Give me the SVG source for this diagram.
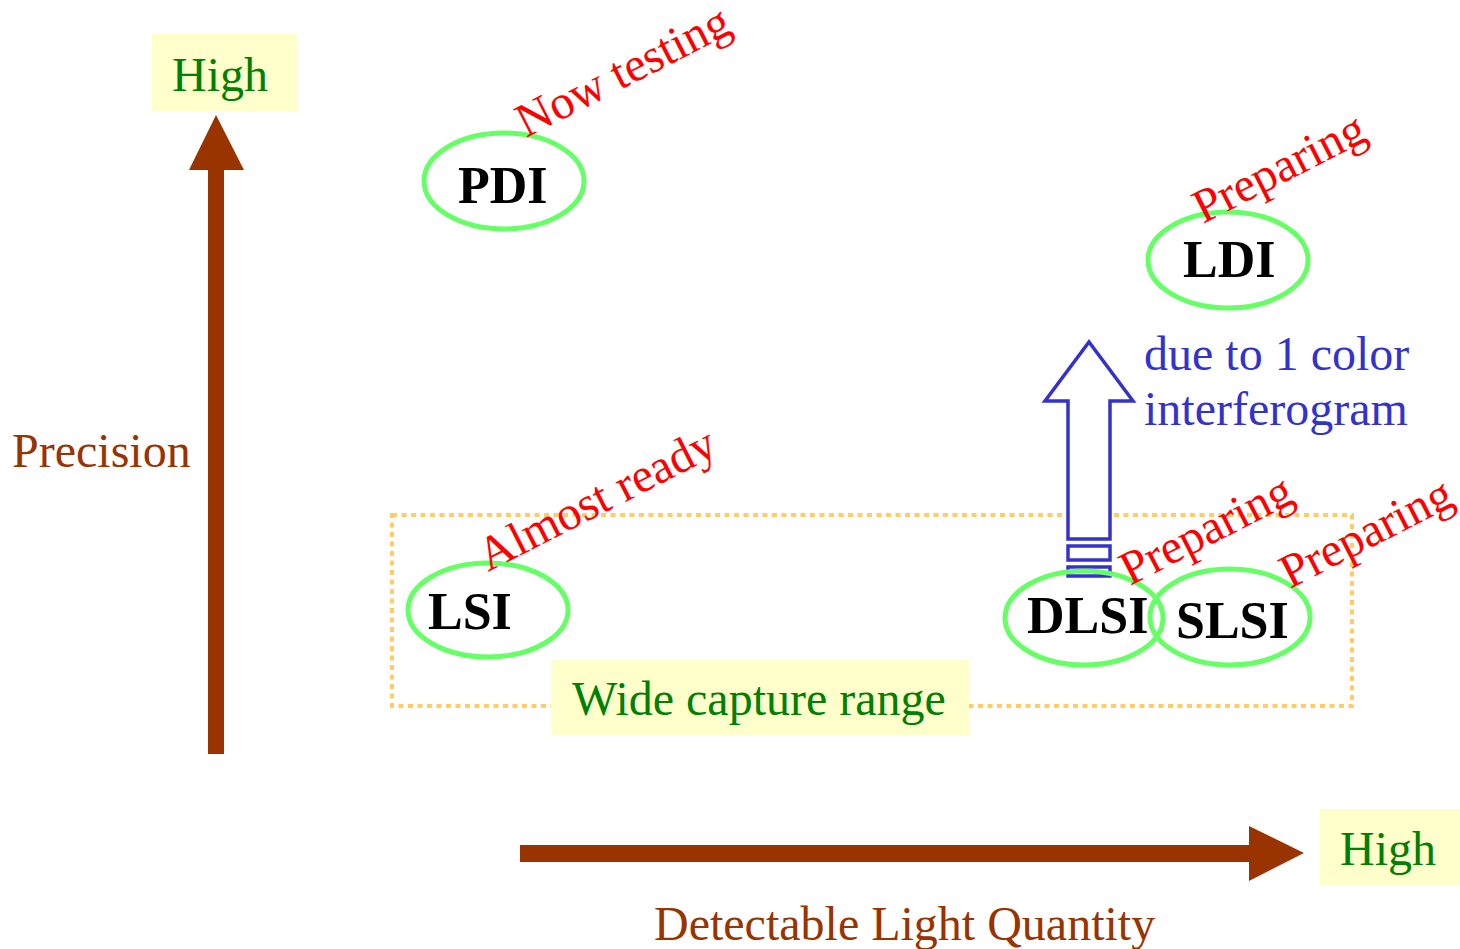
<svg xmlns="http://www.w3.org/2000/svg" width="1460" height="949" viewBox="0 0 1460 949">
<style>
.t{font-family:"Liberation Serif","Times New Roman",serif;font-size:48px}
.lab{font-family:"Liberation Serif","Times New Roman",serif;font-size:52px;font-weight:bold;fill:#000}
.red{font-family:"Liberation Serif","Times New Roman",serif;font-size:48px;fill:#ff0000}
.green{fill:#008000}
.brown{fill:#993300}
.blue{fill:#3333cc}
.ell{fill:none;stroke:#66ff66;stroke-width:5}
.hl{fill:#ffffcc}
</style>
<rect width="1460" height="949" fill="#ffffff"/>
<g id="range-box">
<rect x="392" y="515" width="960" height="191" fill="none" stroke="#ffcc66" stroke-width="4" stroke-dasharray="5 4.5"/>
</g>
<g id="connectors">
<polygon points="208,754 208,170 189,170 216,115 244,170 224,170 224,754" fill="#993300"/>
<polygon points="520,845 1249,845 1249,826 1304,853 1249,881 1249,862 520,862" fill="#993300"/>
<g fill="#ffffff" stroke="#3333cc" stroke-width="3.5">
<polygon points="1068,539 1068,401 1045,401 1089,342 1133,401 1110,401 1110,539"/>
<rect x="1068" y="546" width="42" height="14"/>
<rect x="1068" y="567" width="42" height="9"/>
</g>
</g>
<g id="high-y">
<rect class="hl" x="152" y="34" width="145" height="77"/>
<text class="t green" x="172" y="91">High</text>
</g>
<g id="high-x">
<rect class="hl" x="1320" y="809" width="140" height="77"/>
<text class="t green" x="1340" y="865">High</text>
</g>
<g id="precision"><text class="t brown" x="12" y="467">Precision</text></g>
<g id="light"><text class="t brown" x="654" y="940">Detectable Light Quantity</text></g>
<g id="wide">
<rect class="hl" x="551" y="660" width="418" height="75"/>
<text class="t green" x="572" y="715">Wide capture range</text>
</g>
<g id="note"><text class="t blue" x="1144" y="370">due to 1 color</text><text class="t blue" x="1144" y="425">interferogram</text></g>
<g id="PDI">
<ellipse class="ell" cx="504" cy="181" rx="80" ry="48"/>
<text class="lab" x="458" y="203">PDI</text>
<text class="red" transform="translate(526,138) rotate(-27)">Now testing</text>
</g>
<g id="LDI">
<ellipse class="ell" cx="1228" cy="260" rx="80" ry="48"/>
<text class="lab" x="1183" y="277">LDI</text>
<text class="red" transform="translate(1203,224) rotate(-27)">Preparing</text>
</g>
<g id="LSI">
<ellipse class="ell" cx="488" cy="610" rx="80" ry="47"/>
<text class="lab" x="428" y="629">LSI</text>
<text class="red" transform="translate(488,572) rotate(-27)">Almost ready</text>
</g>
<g id="DLSI">
<ellipse class="ell" cx="1084" cy="618" rx="79" ry="47"/>
<text class="lab" x="1027" y="633">DLSI</text>
<text class="red" transform="translate(1130,586) rotate(-27)">Preparing</text>
</g>
<g id="SLSI">
<ellipse class="ell" cx="1230" cy="617" rx="80" ry="48"/>
<text class="lab" x="1176" y="638">SLSI</text>
<text class="red" transform="translate(1290,589) rotate(-27)">Preparing</text>
</g>
</svg>
